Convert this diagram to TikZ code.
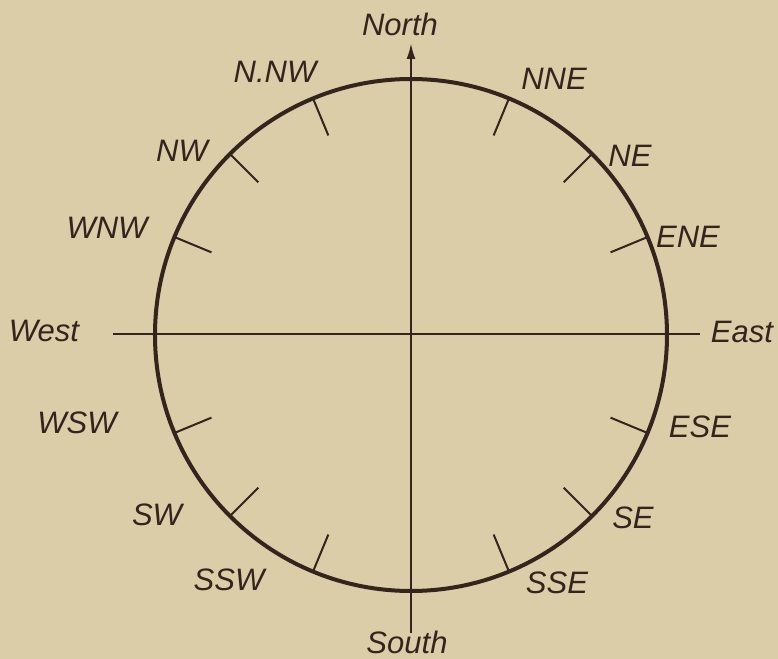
\documentclass[tikz,border=0pt]{standalone}
\usepackage{fontspec}
\setmainfont{Liberation Sans}
\usetikzlibrary{arrows.meta}
\definecolor{paper}{RGB}{219,205,167}
\definecolor{ink}{RGB}{52,36,30}
\newdimen\R
\newdimen\r
\R=128pt
\r=108pt
\begin{document}
\begin{tikzpicture}[x=1pt, y=1pt, ink, every node/.style={inner sep=0pt, text=ink, font=\fontsize{15.5}{18}\selectfont\itshape}]
     \fill[paper] (-205.5,-162) rectangle (183.5,167.5);
     \useasboundingbox (-205.5,-162) rectangle (183.5,167.5);
     \coordinate (O) at (0,0);
     \draw[line width=2pt] (O) circle (\R);
     % axes
     \coordinate (N) at (0,146);
     \coordinate (S) at (0,-149);
     \coordinate (W) at (-149,0.5);
     \coordinate (E) at (144.5,0.5);
     \draw[line width=1.2pt, -{Latex[length=8pt,width=4.5pt]}] (S) -- (N);
     \draw[line width=1.2pt] (W) -- (E);
     % ticks
     \coordinate (a1) at (22.5:\R);  \coordinate (b1) at (22.5:\r);
     \coordinate (a2) at (45:\R);    \coordinate (b2) at (45:\r);
     \coordinate (a3) at (67.5:\R);  \coordinate (b3) at (67.5:\r);
     \coordinate (a4) at (112.5:\R); \coordinate (b4) at (112.5:\r);
     \coordinate (a5) at (135:\R);   \coordinate (b5) at (135:\r);
     \coordinate (a6) at (157.5:\R); \coordinate (b6) at (157.5:\r);
     \coordinate (a7) at (202.5:\R); \coordinate (b7) at (202.5:\r);
     \coordinate (a8) at (225:\R);   \coordinate (b8) at (225:\r);
     \coordinate (a9) at (247.5:\R); \coordinate (b9) at (247.5:\r);
     \coordinate (a10) at (292.5:\R); \coordinate (b10) at (292.5:\r);
     \coordinate (a11) at (315:\R);   \coordinate (b11) at (315:\r);
     \coordinate (a12) at (337.5:\R); \coordinate (b12) at (337.5:\r);
\draw[line width=1pt] (a1) -- (b1);
\draw[line width=1pt] (a2) -- (b2);
\draw[line width=1pt] (a3) -- (b3);
\draw[line width=1pt] (a4) -- (b4);
\draw[line width=1pt] (a5) -- (b5);
\draw[line width=1pt] (a6) -- (b6);
\draw[line width=1pt] (a7) -- (b7);
\draw[line width=1pt] (a8) -- (b8);
\draw[line width=1pt] (a9) -- (b9);
\draw[line width=1pt] (a10) -- (b10);
\draw[line width=1pt] (a11) -- (b11);
\draw[line width=1pt] (a12) -- (b12);
     % labels
     \node (north) at (-5.5,155.5) {North};
     \node (south) at (-2,-153.5) {South};
     \node (west) at (-183.5,2) {West};
     \node (east) at (165.5,1.5) {East};
     \node (nnw) at (-68,131.5) {N.NW};
     \node (nw) at (-114.5,92) {NW};
     \node (wnw) at (-152,53.5) {WNW};
     \node (wsw) at (-167,-44) {WSW};
     \node (sw) at (-127,-90) {SW};
     \node (ssw) at (-91,-122.5) {SSW};
     \node (nne) at (71.5,128) {NNE};
     \node (ne) at (109.5,89.5) {NE};
     \node (ene) at (138.5,49) {ENE};
     \node (ese) at (144.5,-46) {ESE};
     \node (se) at (111,-91.5) {SE};
     \node (sse) at (73,-124) {SSE};
\end{tikzpicture}
\end{document}
